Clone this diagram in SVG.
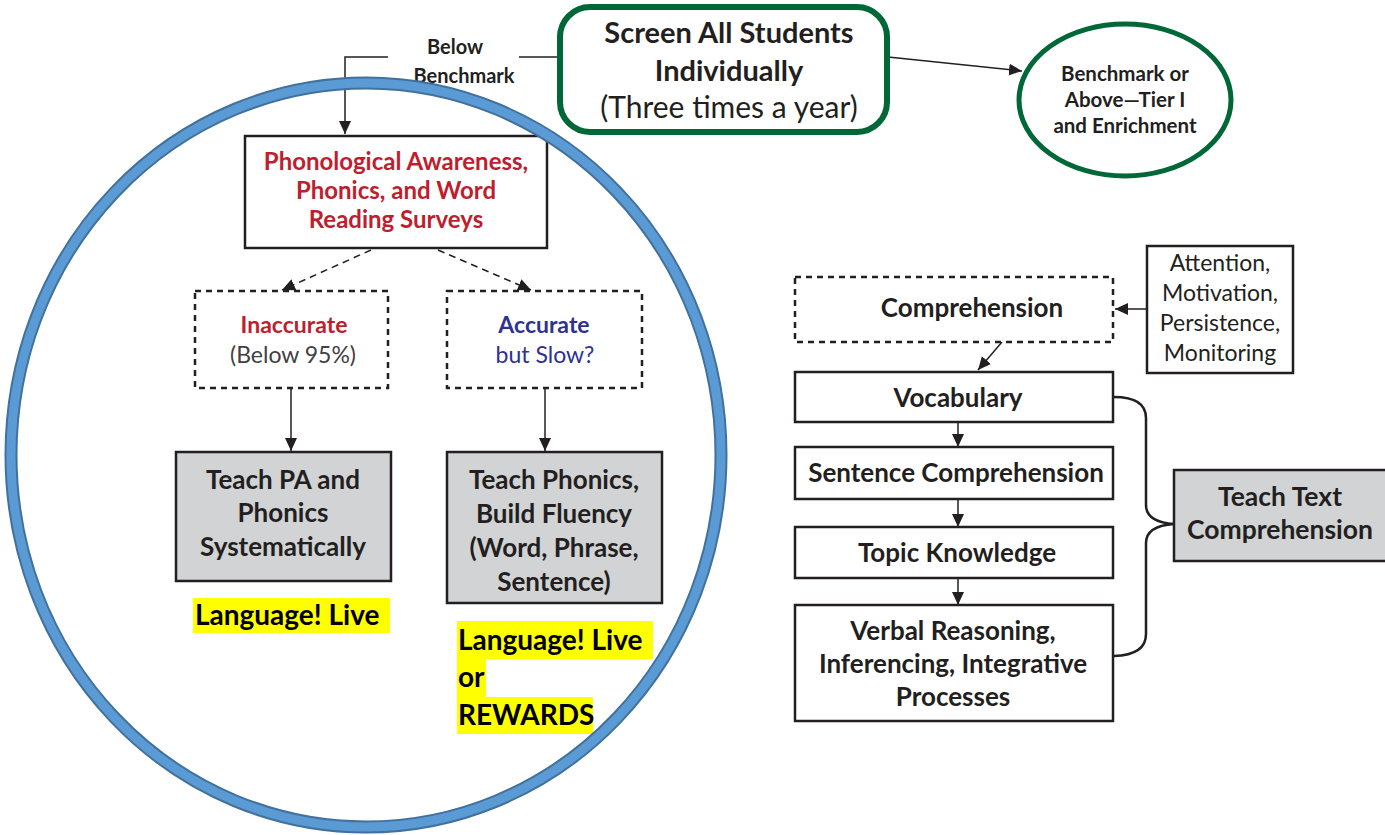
<svg xmlns="http://www.w3.org/2000/svg" width="1385" height="835" viewBox="0 0 1385 835">
<defs>
<marker id="ah" markerUnits="userSpaceOnUse" markerWidth="14" markerHeight="14" viewBox="0 0 14 14" refX="13" refY="7" orient="auto">
<path d="M0,1 L13,7 L0,13 Z" fill="#231f20"/>
</marker>
<style>
text{font-family:Lato,"Liberation Sans",sans-serif;text-anchor:middle;fill:#231f20}
.b{font-weight:bold}
.box{fill:#fff;stroke:#231f20;stroke-width:2.5}
.gray{fill:#d1d3d4;stroke:#231f20;stroke-width:2.5}
.dash{fill:#fff;stroke:#231f20;stroke-width:2.5;stroke-dasharray:6 5}
.ln{fill:none;stroke:#231f20;stroke-width:1.5}
.hl{fill:#ffff00}
.lang{font-weight:bold;font-size:28px;text-anchor:start;fill:#000}
</style>
</defs>
<rect width="1385" height="835" fill="#fff"/>

<g id="connectors">
<path class="ln" d="M558,57 L519,57"/>
<path class="ln" d="M388,57 L345,57 L345,134" marker-end="url(#ah)"/>
<path class="ln" d="M888,57 L1022,71" marker-end="url(#ah)"/>
<path class="ln" d="M371,250 L282,290" stroke-dasharray="7 5" marker-end="url(#ah)"/>
<path class="ln" d="M438,250 L531,290" stroke-dasharray="7 5" marker-end="url(#ah)"/>
<path class="ln" d="M291,389 L291,451" marker-end="url(#ah)"/>
<path class="ln" d="M545,389 L545,451" marker-end="url(#ah)"/>
<path class="ln" d="M1147,309 L1115,309" marker-end="url(#ah)"/>
<path class="ln" d="M1002,342 L978,370" marker-end="url(#ah)"/>
<path class="ln" d="M958,423 L958,447" marker-end="url(#ah)"/>
<path class="ln" d="M958,499 L958,527" marker-end="url(#ah)"/>
<path class="ln" d="M958,578 L958,605" marker-end="url(#ah)"/>
<path d="M1114,397 Q1146,397 1146,418 L1146,505 Q1146,522 1174,524 Q1146,526 1146,543 L1146,634 Q1146,655 1114,656" fill="none" stroke="#231f20" stroke-width="2.5"/>
</g>

<g id="below-label">
<text class="b" x="455" y="54" font-size="20">Below</text>
<text class="b" x="464" y="83" font-size="20">Benchmark</text>
</g>

<g id="screen">
<rect x="560" y="7" width="327" height="125" rx="30" fill="#fff" stroke="#006837" stroke-width="6"/>
<text class="b" x="729" y="43" font-size="29">Screen All Students</text>
<text class="b" x="729" y="81" font-size="29">Individually</text>
<text x="729" y="118" font-size="30">(Three times a year)</text>
</g>

<g id="benchmark">
<ellipse cx="1125" cy="100" rx="106" ry="76" fill="#fff" stroke="#006837" stroke-width="5"/>
<text class="b" x="1125" y="81" font-size="20.5">Benchmark or</text>
<text class="b" x="1125" y="107" font-size="20.5">Above—Tier I</text>
<text class="b" x="1125" y="133" font-size="20.5">and Enrichment</text>
</g>

<g id="surveys">
<rect class="box" x="245" y="136" width="302" height="112"/>
<text class="b" x="396" y="170" font-size="24" style="fill:#be1e2d">Phonological Awareness,</text>
<text class="b" x="396" y="199" font-size="24" style="fill:#be1e2d">Phonics, and Word</text>
<text class="b" x="396" y="228" font-size="24" style="fill:#be1e2d">Reading Surveys</text>
</g>

<g id="inaccurate">
<rect class="dash" x="195" y="291" width="193" height="97"/>
<text class="b" x="294" y="333" font-size="23" style="fill:#be1e2d">Inaccurate</text>
<text x="293" y="363" font-size="23" style="fill:#414042">(Below 95%)</text>
</g>

<g id="accurate">
<rect class="dash" x="447" y="291" width="195" height="97"/>
<text class="b" x="544" y="333" font-size="23" style="fill:#2e3192">Accurate</text>
<text x="545" y="363" font-size="23" style="fill:#2e3192">but Slow?</text>
</g>

<g id="teach-pa">
<rect class="gray" x="176" y="452" width="215" height="129"/>
<text class="b" x="283" y="489" font-size="26">Teach PA and</text>
<text class="b" x="283" y="522" font-size="26">Phonics</text>
<text class="b" x="283" y="556" font-size="26">Systematically</text>
</g>

<g id="teach-phonics">
<rect class="gray" x="447" y="452" width="215" height="151"/>
<text class="b" x="554" y="489" font-size="26">Teach Phonics,</text>
<text class="b" x="554" y="523" font-size="26">Build Fluency</text>
<text class="b" x="554" y="557" font-size="26">(Word, Phrase,</text>
<text class="b" x="554" y="591" font-size="26">Sentence)</text>
</g>

<g id="program-1">
<rect class="hl" x="193" y="598" width="197" height="35"/>
<text class="lang" x="195" y="625">Language! Live</text>
</g>

<g id="program-2">
<rect class="hl" x="457" y="621" width="196" height="38"/>
<rect class="hl" x="457" y="659" width="29" height="38"/>
<rect class="hl" x="457" y="697" width="136" height="37"/>
<text class="lang" x="458" y="650">Language! Live</text>
<text class="lang" x="458" y="687">or</text>
<text class="lang" x="458" y="725">REWARDS</text>
</g>

<g id="circle">
<ellipse cx="366" cy="455" rx="355" ry="372" fill="none" stroke="#41719c" stroke-width="13"/>
<ellipse cx="366" cy="455" rx="355" ry="372" fill="none" stroke="#5b9bd5" stroke-width="9"/>
</g>

<g id="attention">
<rect class="box" x="1147" y="246" width="146" height="127"/>
<text x="1220" y="271" font-size="23">Attention,</text>
<text x="1220" y="301" font-size="23">Motivation,</text>
<text x="1220" y="331" font-size="23">Persistence,</text>
<text x="1220" y="361" font-size="23">Monitoring</text>
</g>

<g id="comprehension">
<rect class="dash" x="795" y="277" width="318" height="65"/>
<text class="b" x="972" y="317" font-size="26">Comprehension</text>
</g>

<g id="vocabulary">
<rect class="box" x="795" y="372" width="318" height="50"/>
<text class="b" x="958" y="407" font-size="26">Vocabulary</text>
</g>

<g id="sentence">
<rect class="box" x="795" y="447" width="318" height="52"/>
<text class="b" x="956" y="482" font-size="26">Sentence Comprehension</text>
</g>

<g id="topic">
<rect class="box" x="795" y="527" width="318" height="51"/>
<text class="b" x="957" y="562" font-size="26">Topic Knowledge</text>
</g>

<g id="verbal">
<rect class="box" x="795" y="605" width="318" height="116"/>
<text class="b" x="953" y="640" font-size="26">Verbal Reasoning,</text>
<text class="b" x="953" y="673" font-size="26">Inferencing, Integrative</text>
<text class="b" x="953" y="706" font-size="26">Processes</text>
</g>

<g id="teach-text">
<rect class="gray" x="1174" y="470" width="216" height="91"/>
<text class="b" x="1280" y="506" font-size="26.5">Teach Text</text>
<text class="b" x="1280" y="539" font-size="26.5">Comprehension</text>
</g>
</svg>
